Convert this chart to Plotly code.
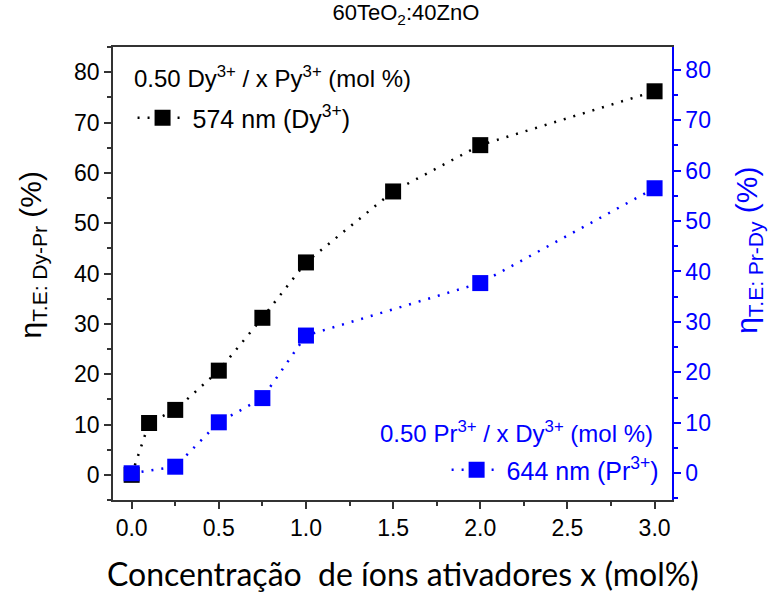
import plotly.graph_objects as go

# Activator concentration x (mol%)
x_dy = [0.0, 0.1, 0.25, 0.5, 0.75, 1.0, 1.5, 2.0, 3.0]
eta_dy_pr = [0.0, 10.3, 12.9, 20.7, 31.2, 42.2, 56.3, 65.5, 76.2]   # 574 nm (Dy3+)

x_pr = [0.0, 0.25, 0.5, 0.75, 1.0, 2.0, 3.0]
eta_pr_dy = [0.0, 1.3, 10.1, 14.9, 27.3, 37.7, 56.5]                # 644 nm (Pr3+)

x_ticks = [0.0, 0.5, 1.0, 1.5, 2.0, 2.5, 3.0]
x_tick_text = ["0.0", "0.5", "1.0", "1.5", "2.0", "2.5", "3.0"]
y_ticks = [0, 10, 20, 30, 40, 50, 60, 70, 80]

BLUE = "#0000FF"
AXIS = "#333333"
SANS = "Liberation Sans"
TICK_FONT = dict(family=SANS, size=23, color="black")
DOTS = "2px,8px"

fig = go.Figure()

fig.add_trace(go.Scatter(
    x=x_dy, y=eta_dy_pr, mode="lines+markers",
    name="574 nm (Dy<sup>3+</sup>)",
    line=dict(color="black", dash=DOTS, width=2.5),
    marker=dict(symbol="square", size=16, color="black"),
    legend="legend", showlegend=True,
))
fig.add_trace(go.Scatter(
    x=x_pr, y=eta_pr_dy, mode="lines+markers",
    name="644 nm (Pr<sup>3+</sup>)",
    line=dict(color=BLUE, dash=DOTS, width=2.5),
    marker=dict(symbol="square", size=16, color=BLUE),
    yaxis="y2",
    legend="legend2", showlegend=True,
))

fig.update_layout(
    width=775, height=595,
    margin=dict(l=113, r=103, t=47, b=95),
    plot_bgcolor="white", paper_bgcolor="white",
    font=dict(family=SANS, color="black", size=21),
    showlegend=True,
    title=dict(text="60TeO<sub>2</sub>:40ZnO", x=0.524, xref="paper",
               y=0.992, yref="container", xanchor="center", yanchor="top",
               font=dict(size=22, family=SANS, color="black")),
    xaxis=dict(
        range=[-0.107, 3.1], tickvals=x_ticks, ticktext=x_tick_text,
        ticks="outside", ticklen=7, tickwidth=1.5, tickcolor=AXIS,
        minor=dict(dtick=0.25, tick0=0, ticks="outside", ticklen=4, tickcolor=AXIS),
        showline=True, linecolor=AXIS, linewidth=1.5, mirror=True,
        showgrid=False, zeroline=False, tickfont=TICK_FONT,
    ),
    yaxis=dict(
        range=[-5, 85], tickvals=y_ticks,
        ticks="outside", ticklen=7, tickwidth=1.5, tickcolor=AXIS,
        minor=dict(dtick=5, tick0=0, ticks="outside", ticklen=4, tickcolor=AXIS),
        showline=True, linecolor=AXIS, linewidth=1.5,
        showgrid=False, zeroline=False, tickfont=TICK_FONT,
    ),
    yaxis2=dict(
        range=[-5.3, 84.5], tickvals=y_ticks, overlaying="y", side="right",
        ticks="outside", ticklen=7, tickwidth=1.5, tickcolor=BLUE,
        minor=dict(dtick=5, tick0=0, ticks="outside", ticklen=4, tickcolor=BLUE),
        showline=True, linecolor=BLUE, linewidth=1.5,
        showgrid=False, zeroline=False,
        tickfont=dict(family=SANS, size=23, color=BLUE),
    ),
    legend=dict(
        x=0.035, y=0.843, xanchor="left", yanchor="middle", visible=True,
        bgcolor="rgba(0,0,0,0)", font=dict(family=SANS, size=25, color="black"),
        itemwidth=50,
    ),
    legend2=dict(
        x=0.985, y=0.066, xanchor="right", yanchor="middle", visible=True,
        bgcolor="rgba(0,0,0,0)", font=dict(family=SANS, size=25, color=BLUE),
        itemwidth=50,
    ),
    annotations=[
        # axis titles (kept in the margins)
        dict(text="Concentração  de íons ativadores x (mol%)",
             x=0.519, xref="paper", xanchor="center",
             y=-0.162, yref="paper", yanchor="middle", showarrow=False,
             font=dict(family="Lato", size=32, color="black")),
        dict(text="η<sub>T.E: Dy-Pr</sub> (%)", textangle=-90,
             x=-(113 - 32) / 559, xref="paper", xanchor="center",
             y=0.54, yref="paper", yanchor="middle", showarrow=False,
             font=dict(family=SANS, size=30, color="black")),
        dict(text="η<sub>T.E: Pr-Dy</sub> (%)", textangle=-90,
             x=1 + (749 - 672) / 559, xref="paper", xanchor="center",
             y=0.55, yref="paper", yanchor="middle", showarrow=False,
             font=dict(family=SANS, size=30, color=BLUE)),
        # legend headers
        dict(text="0.50 Dy<sup>3+</sup> / x Py<sup>3+</sup> (mol %)",
             x=0.034, xref="paper", xanchor="left", y=0.934, yref="paper",
             yanchor="middle", showarrow=False,
             font=dict(family=SANS, size=24, color="black")),
        dict(text="0.50 Pr<sup>3+</sup> / x Dy<sup>3+</sup> (mol %)",
             x=0.97, xref="paper", xanchor="right", y=0.150, yref="paper",
             yanchor="middle", showarrow=False,
             font=dict(family=SANS, size=24, color=BLUE)),
    ],
)

fig.write_html("out.html")
